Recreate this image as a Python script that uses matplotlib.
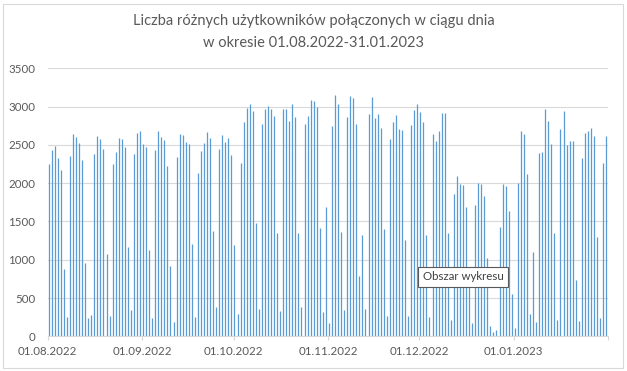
import matplotlib
matplotlib.use('Agg')
import matplotlib.pyplot as plt
from matplotlib.patches import Rectangle
import numpy as np
import pandas as pd

# dzienna liczba użytkowników
sierpien = [2250, 2433, 2486, 2329, 2172, 879, 252, 2351, 2642, 2603, 2525, 2303, 958, 239, 274, 2381,
            2616, 2577, 2446, 1075, 266, 2250, 2407, 2590, 2577, 2473, 1167, 344, 2381, 2655, 2681]
wrzesien = [2512, 2473, 1127, 244, 2433, 2681, 2603, 2564, 2224, 918, 187, 2342, 2642, 2629, 2538,
            2512, 1206, 252, 2133, 2420, 2525, 2668, 2590, 1376, 383, 2446, 2629, 2538, 2590, 2368]
pazdziernik = [1193, 292, 2264, 2799, 2982, 3034, 2943, 1480, 357, 2773, 2969, 3008, 2969, 2877, 1349,
               331, 2969, 2969, 2812, 3034, 2864, 1349, 383, 2773, 2877, 3086, 3073, 2995, 1415, 318, 1689]
listopad = [174, 2747, 3152, 3034, 1362, 344, 2864, 3139, 3112, 2773, 788, 1323, 357, 2903, 3125,
            2851, 2903, 2721, 1402, 266, 2577, 2799, 2890, 2708, 2694, 1258, 266, 2760, 2956, 3034]
grudzien = [2930, 2799, 1323, 252, 2642, 2551, 2681, 2917, 2917, 1349, 213, 1859, 2094, 1989, 1976,
            1689, 780, 174, 1715, 2002, 1989, 1833, 1023, 135, 57, 83, 1428, 1989, 1963, 1637, 553]
styczen = [109, 2002, 2681, 2642, 2120, 292, 1101, 187, 2394, 2407, 2969, 2812, 2512, 1349, 213,
           2708, 2943, 2499, 2551, 2551, 736, 200, 2329, 2655, 2681, 2721, 2616, 1297, 239, 2264, 2616]

wartosci = sierpien + wrzesien + pazdziernik + listopad + grudzien + styczen
dni = pd.date_range('2022-08-01', '2023-01-31', freq='D')
start = pd.Timestamp('2022-08-01')
koniec = pd.Timestamp('2023-02-01')
miesiace = pd.date_range(start, koniec, freq='MS')

szary = '#595959'
plt.rcParams['font.family'] = ['Lato', 'DejaVu Sans']

fig = plt.figure(figsize=(6.27, 3.71), dpi=100)
ax = fig.add_axes([47.7 / 627, 34.7 / 371, 560.6 / 627, 268.0 / 371])

# cienkie słupki, po jednym na dzień (1 px szerokości)
x = (dni - start).days + 0.3
ax.vlines(x, 0, wartosci, colors='#5b9bd5', linewidth=0.9, zorder=3)

ax.set_xlim(0, (koniec - start).days)
ax.set_ylim(0, 3500)
ax.set_yticks(np.arange(0, 3501, 500))
ax.set_xticks((miesiace - start).days)
ax.set_xticklabels([d.strftime('%d.%m.%Y') for d in miesiace[:-1]] + [''])

ax.grid(axis='y', color='#d9d9d9', linewidth=0.8, zorder=0)
for s in ['top', 'right', 'left']:
    ax.spines[s].set_visible(False)
ax.spines['bottom'].set_color('#d9d9d9')
ax.spines['bottom'].set_linewidth(0.8)
ax.spines['bottom'].set_zorder(4)
ax.tick_params(axis='x', length=3, width=0.8, color='#d9d9d9', labelcolor=szary, labelsize=8.3, pad=4)
ax.tick_params(axis='y', length=0, labelcolor=szary, labelsize=8.3, pad=9)

fig.text(0.5, 1 - 21 / 371, 'Liczba różnych użytkowników połączonych w ciągu dnia',
         ha='center', va='center', fontsize=10.5, color=szary)
fig.text(0.5, 1 - 43 / 371, 'w okresie 01.08.2022-31.01.2023',
         ha='center', va='center', fontsize=10.5, color=szary)

fig.text(463 / 627, 1 - 277 / 371, 'Obszar wykresu', ha='center', va='center', fontsize=8.3,
         color='#404040', zorder=10,
         bbox=dict(boxstyle='square,pad=0.4', facecolor='white', edgecolor='#595959', linewidth=0.8))

fig.patches.append(Rectangle((3 / 627, 3 / 371), 620 / 627, 364 / 371, transform=fig.transFigure,
                             fill=False, edgecolor='#d9d9d9', linewidth=0.8))

fig.savefig('out.png', dpi=100)
